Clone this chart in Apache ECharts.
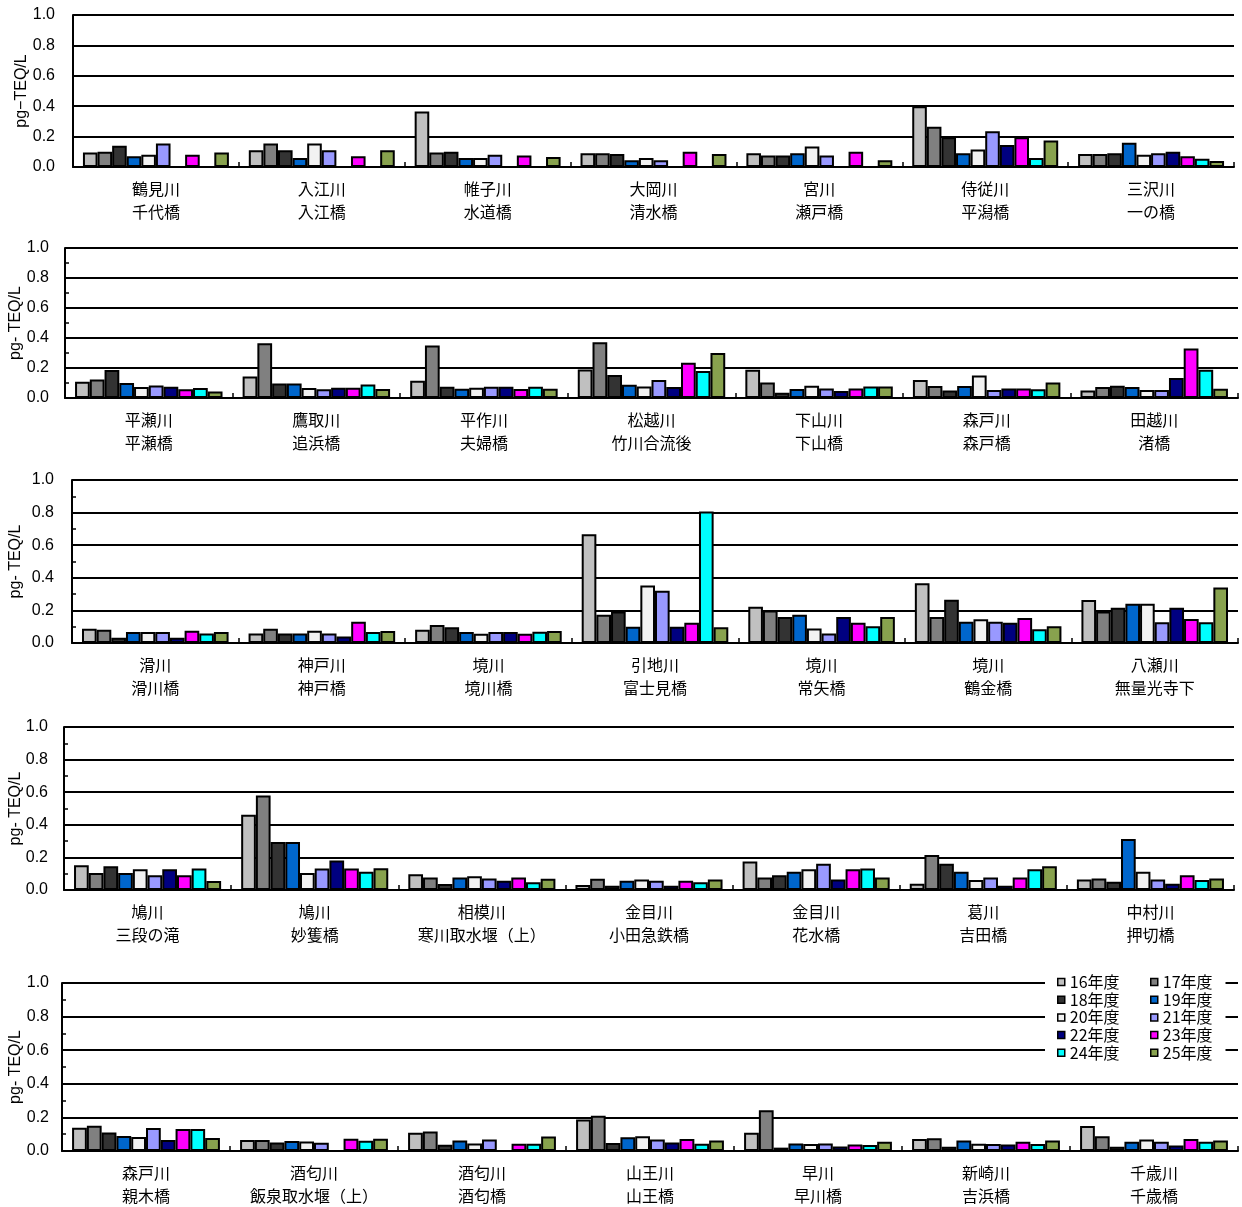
<!DOCTYPE html>
<html><head><meta charset="utf-8">
<script src="https://cdn.jsdelivr.net/npm/echarts@6/dist/echarts.min.js"></script>
<style>html,body{margin:0;padding:0;background:#fff}#c{width:1242px;height:1207px}</style>
</head><body><div id="c"></div>
<script>
// ---- data ----
const years = ['16年度','17年度','18年度','19年度','20年度','21年度','22年度','23年度','24年度','25年度'];
const yTicks = [0, 0.2, 0.4, 0.6, 0.8, 1.0];

const cats1 = ['鶴見川\n千代橋','入江川\n入江橋','帷子川\n水道橋','大岡川\n清水橋','宮川\n瀬戸橋','侍従川\n平潟橋','三沢川\n一の橋'];
const cats2 = ['平瀬川\n平瀬橋','鷹取川\n追浜橋','平作川\n夫婦橋','松越川\n竹川合流後','下山川\n下山橋','森戸川\n森戸橋','田越川\n渚橋'];
const cats3 = ['滑川\n滑川橋','神戸川\n神戸橋','境川\n境川橋','引地川\n富士見橋','境川\n常矢橋','境川\n鶴金橋','八瀬川\n無量光寺下'];
const cats4 = ['鳩川\n三段の滝','鳩川\n妙篗橋','相模川\n寒川取水堰（上）','金目川\n小田急鉄橋','金目川\n花水橋','葛川\n吉田橋','中村川\n押切橋'];
const cats5 = ['森戸川\n親木橋','酒匂川\n飯泉取水堰（上）','酒匂川\n酒匂橋','山王川\n山王橋','早川\n早川橋','新崎川\n吉浜橋','千歳川\n千歳橋'];

// values per site (16年度 … 25年度), pg-TEQ/L
const vals1 = [
  [0.095,0.10,0.14,0.07,0.08,0.155,null,0.08,null,0.095],
  [0.11,0.155,0.11,0.06,0.155,0.11,null,0.07,null,0.11],
  [0.365,0.095,0.10,0.06,0.06,0.08,null,0.075,null,0.065],
  [0.09,0.09,0.085,0.045,0.06,0.045,null,0.10,null,0.085],
  [0.09,0.075,0.075,0.09,0.135,0.075,null,0.10,null,0.045],
  [0.40,0.265,0.195,0.09,0.115,0.235,0.145,0.195,0.06,0.175],
  [0.085,0.085,0.09,0.16,0.08,0.09,0.10,0.07,0.055,0.04]
];
const vals2 = [
  [0.108,0.124,0.186,0.10,0.073,0.084,0.075,0.058,0.066,0.044],
  [0.144,0.365,0.097,0.097,0.066,0.058,0.069,0.069,0.09,0.06],
  [0.115,0.35,0.075,0.062,0.069,0.075,0.075,0.06,0.075,0.062],
  [0.19,0.372,0.153,0.088,0.077,0.12,0.073,0.235,0.18,0.30],
  [0.188,0.104,0.035,0.06,0.082,0.064,0.046,0.064,0.077,0.077],
  [0.12,0.08,0.05,0.08,0.15,0.053,0.064,0.064,0.058,0.104],
  [0.05,0.073,0.082,0.073,0.053,0.053,0.133,0.33,0.188,0.062]
];
const vals3 = [
  [0.087,0.081,0.032,0.067,0.067,0.067,0.032,0.075,0.059,0.067],
  [0.059,0.087,0.059,0.059,0.075,0.059,0.04,0.13,0.067,0.073],
  [0.081,0.11,0.097,0.067,0.057,0.067,0.067,0.057,0.069,0.073],
  [0.667,0.174,0.193,0.10,0.353,0.32,0.10,0.124,0.807,0.097],
  [0.223,0.20,0.16,0.174,0.089,0.059,0.16,0.124,0.103,0.16],
  [0.367,0.16,0.266,0.13,0.146,0.13,0.124,0.154,0.085,0.103],
  [0.264,0.193,0.217,0.241,0.241,0.128,0.217,0.148,0.128,0.341]
];
const vals4 = [
  [0.152,0.104,0.146,0.104,0.128,0.091,0.128,0.091,0.132,0.055],
  [0.461,0.579,0.295,0.295,0.104,0.132,0.181,0.132,0.112,0.134],
  [0.096,0.077,0.037,0.077,0.085,0.071,0.057,0.077,0.047,0.069],
  [0.03,0.069,0.026,0.057,0.065,0.057,0.026,0.057,0.047,0.065],
  [0.175,0.077,0.091,0.112,0.128,0.161,0.065,0.128,0.132,0.077],
  [0.039,0.215,0.161,0.112,0.061,0.077,0.026,0.077,0.128,0.146],
  [0.065,0.071,0.051,0.313,0.112,0.065,0.039,0.091,0.061,0.071]
];
const vals5 = [
  [0.139,0.151,0.11,0.09,0.084,0.137,0.065,0.131,0.131,0.078],
  [0.065,0.065,0.051,0.059,0.057,0.049,null,0.073,0.061,0.073],
  [0.108,0.116,0.037,0.063,0.045,0.069,null,0.043,0.043,0.086],
  [0.188,0.21,0.047,0.082,0.088,0.069,0.051,0.071,0.043,0.063],
  [0.108,0.243,0.02,0.045,0.041,0.045,0.027,0.039,0.035,0.055],
  [0.071,0.076,0.025,0.063,0.043,0.041,0.039,0.055,0.041,0.063],
  [0.149,0.088,0.025,0.055,0.069,0.055,0.033,0.071,0.055,0.063]
];

// ---- styles / layout ----
const colors = ['#C0C0C0','#808080','#333333','#0066CC','#F2F2F2','#9999FF','#000080','#FF00FF','#00FFFF','#88A24E'];
const panels = [
  {cats: cats1, vals: vals1, left: 73, right: 1234, top: 15, bottom: 167, name: 'pg−TEQ/L', nameGap: 43, labelMargin: 18, minor: false},
  {cats: cats2, vals: vals2, left: 63, right: 1238, top: 248, bottom: 398, name: 'pg- TEQ/L', nameGap: 41, labelMargin: 16, minor: true},
  {cats: cats3, vals: vals3, left: 70, right: 1238, top: 480, bottom: 643, name: 'pg- TEQ/L', nameGap: 48, labelMargin: 18, minor: true},
  {cats: cats4, vals: vals4, left: 62, right: 1234, top: 727, bottom: 890, name: 'pg- TEQ/L', nameGap: 40, labelMargin: 16, minor: true},
  {cats: cats5, vals: vals5, left: 60, right: 1238, top: 983, bottom: 1151, name: 'pg- TEQ/L', nameGap: 38, labelMargin: 13, minor: true}
];
const FONT = '"Liberation Sans", "Noto Sans CJK JP", sans-serif';
const JFONT = '"Noto Sans CJK JP", "Liberation Sans", sans-serif';

const grid = [], xAxis = [], yAxis = [], series = [];
panels.forEach((p, i) => {
  grid.push({left: p.left, top: p.top, width: p.right - p.left, height: p.bottom - p.top, containLabel: false});
  xAxis.push({
    type: 'category', gridIndex: i, data: p.cats,
    axisLine: {show: true, lineStyle: {color: '#000', width: 2}},
    axisTick: {show: true, inside: true, length: 5, lineStyle: {color: '#000', width: 1.5}},
    axisLabel: {interval: 0, color: '#000', fontSize: 16, lineHeight: 23, margin: 10, fontFamily: JFONT},
    splitLine: {show: false}
  });
  yAxis.push({
    type: 'value', gridIndex: i, min: yTicks[0], max: yTicks[yTicks.length - 1], interval: 0.2,
    name: p.name, nameLocation: 'middle', nameRotate: 90, nameGap: p.nameGap, nameMoveOverlap: false,
    nameTextStyle: {fontSize: 16, color: '#000', fontFamily: FONT},
    axisLine: {show: true, lineStyle: {color: '#000', width: 2}},
    axisTick: {show: true, inside: true, length: 4, lineStyle: {color: '#000'}},
    minorTick: {show: p.minor, splitNumber: 2, length: 4, lineStyle: {color: '#000', width: 1.5}},
    axisLabel: {color: '#000', fontSize: 16, margin: p.labelMargin, fontFamily: FONT, formatter: v => v.toFixed(1)},
    splitLine: {show: true, lineStyle: {color: '#000', width: 2}}
  });
  years.forEach((y, j) => {
    series.push({
      type: 'bar', name: y, xAxisIndex: i, yAxisIndex: i,
      data: p.vals.map(row => row[j]),
      barGap: '0%', barCategoryGap: '12%',
      itemStyle: {color: colors[j], borderColor: '#000', borderWidth: 2},
      emphasis: {disabled: true}
    });
  });
});

const legendCommon = {
  orient: 'vertical', top: 970, itemWidth: 7, itemHeight: 7, itemGap: 1.7, icon: 'rect',
  backgroundColor: '#fff', textStyle: {fontSize: 16, color: '#000', fontFamily: JFONT},
  itemStyle: {borderColor: '#000', borderWidth: 1.5}
};
const legend = [
  Object.assign({}, legendCommon, {left: 1045, padding: [4, 40, 4, 12], data: [years[0], years[2], years[4], years[6], years[8]]}),
  Object.assign({}, legendCommon, {left: 1140, padding: [4, 13, 4, 10], data: [years[1], years[3], years[5], years[7], years[9]]})
];

const chart = echarts.init(document.getElementById('c'), null, {renderer: 'canvas'});
chart.setOption({
  animation: false,
  textStyle: {fontFamily: FONT},
  grid, xAxis, yAxis, series, legend
});
</script></body></html>
